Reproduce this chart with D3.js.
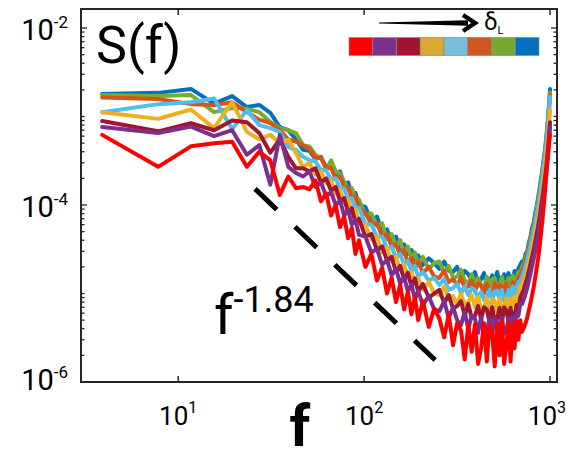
<!DOCTYPE html>
<html><head><meta charset="utf-8">
<script src="https://cdn.jsdelivr.net/npm/d3@7"></script>
<style>body{margin:0;background:#fff}svg{display:block}text{font-family:Roboto,"DejaVu Sans",sans-serif;fill:#000}</style>
</head><body><svg id="c" width="567" height="462"></svg>
<script>
// ---------------- data ----------------
const freq = [3.9,7.8,11.7,15.6,19.5,23.4,27.3,31.3,35.2,39.1,43.0,46.9,
 50.8,54.7,58.6,62.5,66.4,70.3,74.2,78.1,82.0,85.9,89.8,93.8,
 101.6,109.4,117.2,125.0,132.8,140.6,148.4,156.3,164.1,171.9,179.7,187.5,195.3,
 207.0,222.7,238.3,253.9,269.5,285.2,300.8,316.4,332.0,347.7,363.3,378.9,394.5,410.2,425.8,441.4,457.0,472.7,488.3,503.9,519.5,535.2,550.8,566.4,582.0,597.7,613.3,628.9,644.5,660.2,675.8,691.4,
 707.0,722.7,738.3,753.9,769.5,785.2,800.8,816.4,832.0,847.7,863.3,878.9,894.5,910.2,925.8,941.4,957.0,972.7,988.3,1000];

const sBlue = [1.8e-3,1.85e-3,2.05e-3,1.4e-3,1.7e-3,1.28e-3,1.35e-3,1.1e-3,7.6e-4,7e-4,5.5e-4,4.2e-4,
 4.1e-4,3.3e-4,3.5e-4,2.6e-4,2.7e-4,2.1e-4,2.4e-4,1.7e-4,1.8e-4,1.3e-4,1.37e-4,1.0e-4,
 9.5e-5,6.6e-5,7.4e-5,5e-5,5.3e-5,3.9e-5,4.4e-5,3.2e-5,3.6e-5,2.8e-5,3.1e-5,2.4e-5,2.7e-5,
 2.1e-5,2.5e-5,2.2e-5,1.9e-5,2.3e-5,1.8e-5,1.75e-5,2.0e-5,1.5e-5,1.8e-5,1.65e-5,1.4e-5,1.75e-5,1.3e-5,1.45e-5,1.7e-5,1.25e-5,1.35e-5,1.6e-5,1.3e-5,1.75e-5,1.3e-5,1.25e-5,1.65e-5,1.4e-5,1.7e-5,1.3e-5,1.45e-5,1.8e-5,1.5e-5,1.9e-5,2.1e-5,
 2.3e-5,2.3e-5,2.8e-5,3e-5,3.8e-5,4.4e-5,5.6e-5,6.3e-5,8.1e-5,9.8e-5,1.22e-4,1.55e-4,2e-4,2.6e-4,3.4e-4,4.4e-4,6.2e-4,9.1e-4,1.42e-3,2.04e-3];
const sGreen = [1.75e-3,1.7e-3,1.75e-3,1.12e-3,1.25e-3,1.22e-3,1.12e-3,8.7e-4,7.4e-4,7e-4,6.5e-4,4.75e-4,
 4.6e-4,3.7e-4,3.4e-4,2.5e-4,3.2e-4,2.4e-4,2.25e-4,1.85e-4,1.5e-4,1.55e-4,1.2e-4,1.15e-4,
 7.8e-5,8e-5,5.8e-5,6.2e-5,4.1e-5,4.7e-5,3.4e-5,4e-5,2.8e-5,3.4e-5,2.5e-5,2.9e-5,2.1e-5,
 2.6e-5,1.9e-5,2.2e-5,2.3e-5,1.7e-5,2.05e-5,1.5e-5,1.55e-5,1.85e-5,1.4e-5,1.3e-5,1.65e-5,1.3e-5,1.5e-5,1.2e-5,1.15e-5,1.55e-5,1.2e-5,1.45e-5,1.5e-5,1.15e-5,1.2e-5,1.55e-5,1.25e-5,1.2e-5,1.5e-5,1.25e-5,1.6e-5,1.3e-5,1.45e-5,1.75e-5,1.7e-5,
 2.0e-5,2.2e-5,2.5e-5,2.9e-5,3.4e-5,4.2e-5,5e-5,6e-5,7.3e-5,9.2e-5,1.12e-4,1.42e-4,1.85e-4,2.4e-4,3.1e-4,4.1e-4,5.7e-4,8.4e-4,1.3e-3,1.85e-3];
const sOrange = [1.64e-3,1.58e-3,1.38e-3,1.35e-3,1.45e-3,1.12e-3,9.2e-4,8.4e-4,7e-4,5.5e-4,5.2e-4,4.75e-4,
 4.3e-4,3.4e-4,3.4e-4,2.7e-4,2.6e-4,2.0e-4,2.1e-4,1.6e-4,1.6e-4,1.2e-4,1.25e-4,9.5e-5,
 8.2e-5,6e-5,6.2e-5,4.4e-5,4.7e-5,3.4e-5,3.6e-5,2.7e-5,3.1e-5,2.2e-5,2.55e-5,1.9e-5,2.3e-5,
 1.7e-5,2.0e-5,1.55e-5,1.5e-5,1.8e-5,1.35e-5,1.45e-5,1.25e-5,1.5e-5,1.15e-5,1.2e-5,1.4e-5,1.05e-5,1.3e-5,1.25e-5,1.0e-5,1.3e-5,1.0e-5,1.05e-5,1.3e-5,1.0e-5,1.25e-5,1.2e-5,9.6e-6,1.3e-5,1.0e-5,1.08e-5,1.35e-5,1.12e-5,1.3e-5,1.5e-5,1.6e-5,
 1.8e-5,2e-5,2.3e-5,2.7e-5,3.2e-5,3.9e-5,4.7e-5,5.6e-5,6.8e-5,8.6e-5,1.05e-4,1.33e-4,1.72e-4,2.25e-4,2.95e-4,3.85e-4,5.4e-4,8e-4,1.24e-3,1.75e-3];
const sLightBlue = [1.12e-3,1.38e-3,1.45e-3,1.6e-3,7.2e-4,1.18e-3,8e-4,7.4e-4,6.7e-4,4.5e-4,4.2e-4,3.5e-4,
 3.2e-4,3.1e-4,2.5e-4,2.45e-4,1.95e-4,2.0e-4,1.55e-4,1.55e-4,1.15e-4,1.2e-4,9.2e-5,9.3e-5,
 6.1e-5,6e-5,4.4e-5,4.4e-5,3.2e-5,3.4e-5,2.5e-5,2.8e-5,2.1e-5,2.35e-5,1.8e-5,2.05e-5,1.55e-5,
 1.75e-5,1.4e-5,1.5e-5,1.25e-5,1.45e-5,1.1e-5,1.15e-5,1.3e-5,1.0e-5,1.2e-5,9.6e-6,1.15e-5,1.1e-5,8.6e-6,1.05e-5,8.4e-6,9e-6,1.1e-5,8.3e-6,1.05e-5,1.08e-5,8.4e-6,1.1e-5,8.2e-6,8.8e-6,1.1e-5,9.2e-6,1.2e-5,9.4e-6,1.15e-5,1.35e-5,1.35e-5,
 1.55e-5,1.75e-5,2e-5,2.4e-5,2.9e-5,3.5e-5,4.3e-5,5.1e-5,6.3e-5,8e-5,9.8e-5,1.25e-4,1.62e-4,2.12e-4,2.8e-4,3.65e-4,5.1e-4,7.6e-4,1.18e-3,1.66e-3];
const sYellow = [1.12e-3,9.4e-4,1.2e-3,7.4e-4,1.45e-3,6.7e-4,5.5e-4,6.2e-4,5e-4,5.5e-4,3.85e-4,2.7e-4,
 3.0e-4,2.2e-4,2.4e-4,1.75e-4,1.9e-4,1.35e-4,1.5e-4,1.05e-4,1.15e-4,8.2e-5,9e-5,6.2e-5,
 6e-5,4.1e-5,4.4e-5,2.9e-5,3.3e-5,2.3e-5,2.6e-5,1.85e-5,2.15e-5,1.5e-5,1.75e-5,1.28e-5,1.5e-5,
 1.1e-5,1.35e-5,1.0e-5,9.6e-6,1.2e-5,8.5e-6,9.4e-6,7.6e-6,1.0e-5,7.4e-6,8e-6,9.6e-6,7e-6,9.2e-6,6.6e-6,6.8e-6,8.8e-6,6.4e-6,8.6e-6,8.2e-6,6.3e-6,8.8e-6,6.5e-6,7e-6,8.8e-6,6.4e-6,8.7e-6,7.2e-6,9.3e-6,7.8e-6,1.0e-5,1.2e-5,
 1.25e-5,1.4e-5,1.6e-5,1.9e-5,2.25e-5,2.7e-5,3.3e-5,3.9e-5,4.8e-5,6e-5,7.3e-5,9.3e-5,1.2e-4,1.55e-4,2.05e-4,2.7e-4,3.7e-4,5.5e-4,8.5e-4,1.18e-3];
const sDarkRed = [8.9e-4,6.8e-4,8.4e-4,7e-4,9e-4,8.6e-4,6.5e-4,3.9e-4,5.5e-4,3.5e-4,2.6e-4,2.6e-4,
 2.4e-4,2.6e-4,1.8e-4,2.0e-4,1.45e-4,1.6e-4,1.1e-4,1.2e-4,8.2e-5,9.2e-5,6.3e-5,7e-5,
 4.4e-5,4.7e-5,3.1e-5,3.4e-5,2.35e-5,2.6e-5,1.75e-5,2.05e-5,1.45e-5,1.72e-5,1.2e-5,1.48e-5,1.05e-5,
 1.28e-5,9e-6,1.0e-5,1.1e-5,7.8e-6,9.6e-6,6.8e-6,7.2e-6,8.2e-6,5.6e-6,7.6e-6,5.3e-6,5.6e-6,7.2e-6,5.1e-6,7e-6,6.6e-6,4.7e-6,7e-6,4.9e-6,5.2e-6,6.9e-6,4.6e-6,7e-6,6.4e-6,4.8e-6,6.9e-6,5e-6,5.6e-6,7.4e-6,6.4e-6,9e-6,
 1.0e-5,1.12e-5,1.3e-5,1.5e-5,1.8e-5,2.15e-5,2.6e-5,3.1e-5,3.8e-5,4.7e-5,5.8e-5,7.3e-5,9.4e-5,1.22e-4,1.6e-4,2.1e-4,2.85e-4,4.1e-4,6.3e-4,8.6e-4];
const sPurple = [7.6e-4,6.5e-4,7.7e-4,6e-4,7e-4,3.7e-4,4.75e-4,1.7e-4,6.2e-4,2.7e-4,2.3e-4,2.1e-4,
 2.4e-4,1.6e-4,1.8e-4,1.25e-4,1.4e-4,1.0e-4,1.12e-4,7.6e-5,8.8e-5,6e-5,6.8e-5,4.6e-5,
 4.4e-5,2.9e-5,3.2e-5,2.1e-5,2.4e-5,1.6e-5,1.9e-5,1.3e-5,1.55e-5,1.05e-5,1.27e-5,8.6e-6,1.07e-5,
 7.4e-6,9.4e-6,6.6e-6,6.3e-6,8.2e-6,5.3e-6,7e-6,5.0e-6,4.4e-6,6.2e-6,4.0e-6,5.6e-6,5.2e-6,3.6e-6,5.4e-6,3.4e-6,3.7e-6,5.3e-6,3.5e-6,5.2e-6,4.8e-6,3.3e-6,5.3e-6,3.5e-6,3.7e-6,5.3e-6,3.6e-6,5.5e-6,4.0e-6,5.9e-6,5.6e-6,7.6e-6,
 7.6e-6,8.6e-6,9.9e-6,1.15e-5,1.4e-5,1.68e-5,2.05e-5,2.45e-5,3e-5,3.7e-5,4.6e-5,5.8e-5,7.5e-5,9.8e-5,1.3e-4,1.75e-4,2.4e-4,3.5e-4,5.4e-4,7.6e-4];
const sRed = [6.2e-4,2.7e-4,4.6e-4,5e-4,5.2e-4,2.7e-4,4e-4,3.2e-4,1.3e-4,2.1e-4,1.55e-4,1.6e-4,
 1.5e-4,1.9e-4,1.1e-4,1.35e-4,7.6e-5,1.0e-4,5.6e-5,7.4e-5,4.2e-5,5.5e-5,2.8e-5,4.0e-5,
 2.0e-5,2.8e-5,1.4e-5,1.95e-5,1.0e-5,1.5e-5,8e-6,1.25e-5,6.6e-6,1.05e-5,5.8e-6,9.2e-6,5e-6,
 8.2e-6,4.2e-6,6.8e-6,5.2e-6,3.2e-6,5.8e-6,2.6e-6,4.6e-6,3.8e-6,1.8e-6,4.4e-6,2.2e-6,4.5e-6,1.6e-6,2.4e-6,4.6e-6,1.7e-6,4.3e-6,3.6e-6,1.5e-6,4.5e-6,2.0e-6,4.8e-6,1.6e-6,2.6e-6,4.6e-6,1.7e-6,4.5e-6,2.4e-6,4.9e-6,3.0e-6,5e-6,
 3.7e-6,4.1e-6,4.6e-6,5.3e-6,6.5e-6,7.8e-6,9.6e-6,1.18e-5,1.5e-5,1.95e-5,2.5e-5,3.4e-5,4.7e-5,6.8e-5,1e-4,1.48e-4,2.35e-4,3.5e-4,5e-4,6.2e-4];

// draw order (last drawn is on top)
const seriesNames  = ["blue","green","orange","lightblue","yellow","darkred","purple","red"];
const seriesValues = [sBlue,sGreen,sOrange,sLightBlue,sYellow,sDarkRed,sPurple,sRed];
const lineColors   = ["#0072BD","#77AC30","#D95319","#4DBEEE","#EDB120","#A2142F","#7E2F8E","#FF0000"];
// colour strip, left to right (increasing delta_L)
const legendColors = ["#FF0000","#7E2F8E","#A2142F","#DBA832","#77BFDB","#D0581F","#75AA32","#0070BF"];

const xTicks = [10,100,1000], xTickExp = ["1","2","3"];
const yTicks = [1e-6,1e-4,1e-2], yTickExp = ["-6","-4","-2"];
const refLineF = [25.9,241], refLineS = [1.52e-4,1.77e-6];

// ---------------- chart ----------------
const svg = d3.select("#c");
const L=81,R=557,T=9,B=382;
const x = d3.scaleLog().domain([3,1090]).range([L,R]);
const y = d3.scaleLog().domain([1e-6,1.64e-2]).range([B,T]);

svg.append("defs").append("clipPath").attr("id","clip")
  .append("rect").attr("x",L).attr("y",T).attr("width",R-L).attr("height",B-T);

const line = d3.line().x(d=>x(d[0])).y(d=>y(d[1]));
const g = svg.append("g").attr("clip-path","url(#clip)");
seriesValues.forEach((vals,i)=>{
  g.append("path").datum(freq.map((f,j)=>[f,vals[j]]))
   .attr("d",line).attr("fill","none").attr("stroke",lineColors[i])
   .attr("stroke-width",4).attr("stroke-linejoin","round").attr("stroke-linecap","round");
});

// reference slope line
svg.append("path").datum(refLineF.map((f,i)=>[f,refLineS[i]]))
  .attr("d",line).attr("fill","none").attr("stroke","#000").attr("stroke-width",5)
  .attr("stroke-dasharray","30 25");

// axes frame
const ax = svg.append("g").attr("stroke","#262626").attr("fill","none");
ax.append("rect").attr("x",L).attr("y",T).attr("width",R-L).attr("height",B-T).attr("stroke-width",2);
xTicks.forEach(v=>{
  const px=x(v);
  ax.append("line").attr("x1",px).attr("x2",px).attr("y1",B).attr("y2",B-6).attr("stroke-width",1.5);
  ax.append("line").attr("x1",px).attr("x2",px).attr("y1",T).attr("y2",T+6).attr("stroke-width",1.5);
});
y.ticks().forEach(v=>{
  const py=y(v);
  const major = yTicks.some(t=>Math.abs(Math.log10(t)-Math.log10(v))<1e-6);
  const len = major?6:3.5;
  ax.append("line").attr("x1",L).attr("x2",L+len).attr("y1",py).attr("y2",py).attr("stroke-width",1.3);
  ax.append("line").attr("x1",R).attr("x2",R-len).attr("y1",py).attr("y2",py).attr("stroke-width",1.3);
});

// tick labels
xTicks.forEach((v,i)=>{
  const t = svg.append("text").attr("x",x(v)).attr("y",425).attr("text-anchor","middle").attr("font-size",26);
  t.append("tspan").text("10");
  t.append("tspan").attr("dy",-12).attr("font-size",16).text(xTickExp[i]);
  const bb = t.node().getBBox();
  if (bb.x+bb.width>566) t.attr("x",x(v)-(bb.x+bb.width-566));
});
yTicks.forEach((v,i)=>{
  const t = svg.append("text").attr("x",68).attr("y",y(v)+(i===0?8:12)).attr("text-anchor","end").attr("font-size",29);
  t.append("tspan").text("10");
  t.append("tspan").attr("dy",-12).attr("font-size",17).text(yTickExp[i]);
});

// titles
svg.append("text").attr("x",96).attr("y",63).attr("font-size",52).text("S(f)");
svg.append("text").attr("x",300).attr("y",446).attr("text-anchor","middle")
  .attr("font-size",58).attr("font-weight","bold").text("f");
const ann = svg.append("text").attr("x",214).attr("y",334);
ann.append("tspan").attr("font-size",56).text("f");
ann.append("tspan").attr("font-size",36).attr("dy",-22).text("-1.84");

// legend strip
const cw = (539-349)/legendColors.length;
legendColors.forEach((c,i)=>{
  svg.append("rect").attr("x",349+i*cw).attr("y",37.5).attr("width",cw).attr("height",18)
    .attr("fill",c).attr("stroke","#8a8a8a").attr("stroke-width",0.7);
});
// arrow
svg.append("polygon").attr("points","379,22.4 468,20.2 468,25.8 379,23.6").attr("fill","#000");
svg.append("path").attr("d","M463,15 L475,23 L463,31").attr("fill","none").attr("stroke","#000")
  .attr("stroke-width",4.5).attr("stroke-linejoin","miter");
const dl = svg.append("text").attr("x",484).attr("y",30);
dl.append("tspan").attr("font-size",24).text("δ");
dl.append("tspan").attr("font-size",11).attr("dy",4).text("L");
</script>
</body></html>
